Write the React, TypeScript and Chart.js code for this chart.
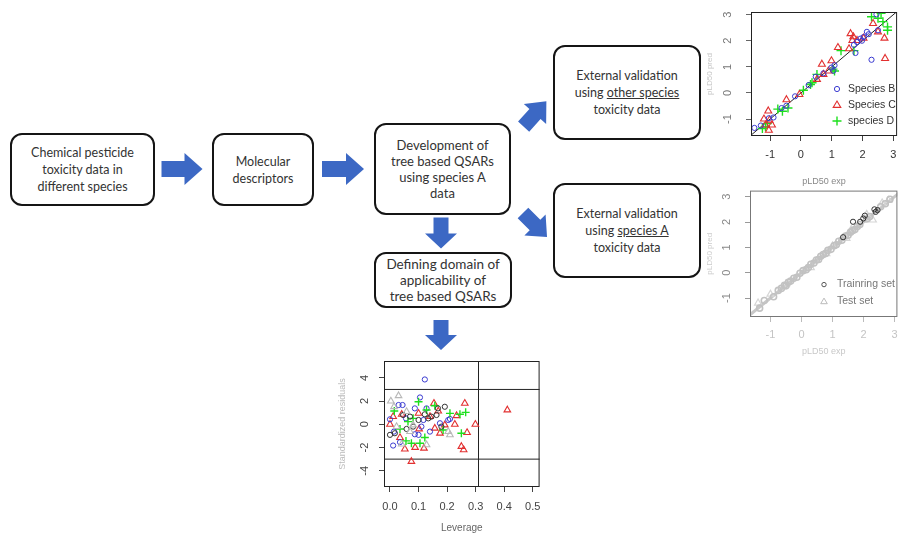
import React, { useEffect, useRef } from 'react';
import { Chart, registerables } from 'chart.js';
Chart.register(...registerables);

const FONT = "'Liberation Sans', Arial, sans-serif";
const BLUE = '#3a3ad0';
const RED = '#e23030';
const GREEN = '#1ee01e';

// ---------- Chart 1: external validation, other species ----------
const predTicks = [-1, 0, 1, 2, 3];
const speciesB: [number, number][] = [
  [-1.51, -1.34], [-1.04, -0.97], [-0.89, -0.94], [-0.63, -0.58], [-0.47, -0.49], [-0.19, -0.13],
  [0.48, 0.62], [0.73, 0.75], [0.99, 0.97], [1.09, 1.06], [1.72, 1.84], [1.82, 1.95], [1.93, 2.08],
  [2.03, 2.14], [2.14, 2.34], [1.77, 1.53], [2.29, 1.27], [2.45, 3.01], [2.5, 2.4], [-1.3, -1.25],
  [0.25, 0.3], [1.05, 0.85], [2.2, 2.25], [1.98, 2.0],
];
const speciesC: [number, number][] = [
  [-1.06, -0.69], [-1.02, -1.04], [-1.04, -1.43], [-1.15, -1.23], [-0.94, -1.23], [-0.47, -0.26],
  [-0.05, -0.06], [0.68, 1.1], [0.73, 0.71], [0.99, 1.23], [1.2, 1.74], [1.56, 1.69], [1.61, 2.27],
  [1.67, 2.01], [1.82, 2.01], [2.03, 2.1], [2.34, 2.66], [2.5, 2.34], [2.71, 2.1], [2.73, 1.32],
  [0.89, 0.84], [0.52, 0.52], [1.7, 2.15], [-1.2, -1.0],
];
const speciesD: [number, number][] = [
  [-1.25, -1.36], [-1.09, -1.17], [-0.75, -0.62], [-0.42, -0.58], [0.08, 0.1], [0.31, 0.32],
  [0.52, 0.71], [1.04, 0.91], [1.3, 1.62], [1.72, 1.62], [2.29, 2.92], [2.6, 3.05], [2.66, 2.73],
  [2.81, 2.53], [2.81, 2.4], [2.5, 2.86], [0.36, 0.39], [1.09, 0.84], [-0.6, -0.7], [-1.15, -1.3],
];
const identityLine: [number, number][] = [[-2, -2], [3.5, 3.5]];
const legend1 = ['Species B', 'Species C', 'species D'];

// ---------- Chart 2: external validation, species A ----------
const trainingSet: [number, number][] = [
  [-1.35, -1.4], [-1.2, -1.1], [-0.9, -0.95], [-0.75, -0.7], [-0.65, -0.62], [-0.55, -0.5],
  [-0.5, -0.52], [-0.42, -0.38], [-0.35, -0.33], [-0.25, -0.22], [-0.15, -0.18], [-0.05, -0.02],
  [0.05, 0.08], [0.15, 0.12], [0.22, 0.2], [0.3, 0.33], [0.4, 0.38], [0.48, 0.5], [0.55, 0.52],
  [0.62, 0.65], [0.7, 0.72], [0.78, 0.76], [0.85, 0.88], [0.95, 0.92], [1.05, 1.06], [1.12, 1.1],
  [1.2, 1.24], [1.3, 1.28], [1.42, 1.45], [1.5, 1.48], [1.58, 1.6], [1.65, 1.66],
  [1.72, 1.7], [1.8, 1.82], [1.88, 1.9], [2.1, 2.12], [2.2, 2.22], [2.55, 2.6],
  [2.7, 2.72], [2.85, 2.9],
];
const trainingDark: [number, number][] = [
  [1.99, 2.14], [2.39, 2.4], [2.35, 2.5], [2.45, 2.47], [2.04, 2.25], [1.89, 2.01], [1.34, 1.4], [1.66, 2.01],
];
const testSet: [number, number][] = [
  [-1.4, -1.2], [-0.5, -0.45], [0.3, 0.2], [1.0, 1.05], [1.6, 1.7], [2.3, 2.08], [2.6, 2.75],
  [2.8, 2.85], [-1.0, -0.85], [0.8, 0.75], [2.1, 2.3], [1.45, 1.35],
];
const legend2 = ['Trainring set', 'Test set'];

// ---------- Chart 3: applicability domain (Williams plot) ----------
const leverageTicks = [0, 0.1, 0.2, 0.3, 0.4, 0.5];
const residualTicks = [-4, -2, 0, 2, 4];
const residualLimit = 3;
const leverageLimit = 0.31;
const domainRed: [number, number][] = [
  [0.154, 1.8], [0.262, 1.8], [0.411, 1.23], [0.299, 0], [0.227, 0], [0.27, -0.71], [0.25, -1.91],
  [0.258, -2.2], [0.075, -3.2], [0.052, -2.14], [0.088, -2.0], [0.119, -2.06], [0.14, 0.66],
  [0.169, 1.14], [0.192, -0.06], [0.157, -0.34], [0.102, -0.4], [0.041, 0.86], [0.011, 0.66],
  [0.233, 0.74], [0.175, -0.77], [0.0, 0], [0.1, 0.94], [0.035, -1.14],
];
const domainBlue: [number, number][] = [
  [0.122, 3.86], [0.105, 2.31], [0.011, -1.83], [0.0, 0.43], [0.03, 1.66], [0.044, 1.66], [0.087, 1.37],
  [0.128, 1.37], [0.056, 0.51], [0.087, -0.86], [0.11, -0.2], [0.14, -0.63], [0.175, 0.09],
  [0.204, 0.37], [0.21, 0.46], [0.014, -0.63], [0.035, -1.54], [0.1, -0.91], [0.117, 0.37],
];
const domainGreen: [number, number][] = [
  [0.015, 1.14], [0.1, 1.94], [0.128, 1.23], [0.157, 1.6], [0.21, 0.94], [0.245, 0.86], [0.265, 1.03],
  [0.25, -0.77], [0.186, -0.49], [0.075, -1.63], [0.105, -1.63], [0.122, -1.14], [0.035, -0.4],
  [0.081, 0.51], [0.063, 0.23], [0.056, -1.43],
];
const domainBlack: [number, number][] = [
  [0.192, 1.51], [0.145, 0.66], [0.163, 0.8], [0.0, -0.91], [0.017, -0.77], [0.046, 0.8], [0.07, 0.66],
  [0.122, 0.86], [0.134, 0.51], [0.058, -0.4], [0.081, -0.2], [0.1, 0.37], [0.18, -0.2], [0.168, 1.37],
];
const domainGray: [number, number][] = [
  [0.003, 2.0], [0.03, 2.46], [0.014, 1.51], [0.128, -1.77], [0.041, -1.71], [0.07, -0.63], [0.21, -0.91],
  [0.081, -0.06], [0.023, -0.2], [0.058, 1.09], [0.204, -0.63],
];

const toPts = (a: [number, number][]) => a.map(([x, y]) => ({ x, y }));

function axis(o: any) {
  return {
    type: 'linear',
    min: o.min,
    max: o.max,
    afterBuildTicks: (s: any) => {
      s.ticks = o.ticks.map((v: number) => ({ value: v }));
    },
    afterFit: (s: any) => {
      if (o.width != null) s.width = o.width;
      if (o.height != null) s.height = o.height;
      s.paddingLeft = 0; s.paddingRight = 0; s.paddingTop = 0; s.paddingBottom = 0;
    },
    grid: { display: true, drawOnChartArea: false, drawTicks: true, tickLength: o.tickLen, color: o.tickColor, lineWidth: 1 },
    border: { display: false },
    ticks: {
      display: !o.rotate,
      color: o.labelColor,
      font: { family: FONT, size: 11 },
      padding: o.pad,
      callback: o.fmt || ((v: number) => String(v)),
    },
    title: {
      display: !!o.title,
      text: o.title,
      color: o.titleColor,
      font: { family: FONT, size: o.titleSize },
      padding: { top: o.titlePad, bottom: o.titlePad },
    },
  };
}

// y tick labels written parallel to the axis (R style), at the y scale's tick positions
const rotatedYLabels = (dx: number, color: string, size: number) => ({
  id: 'rotatedYLabels',
  afterDraw(chart: any) {
    const { ctx, chartArea: a } = chart;
    const s = chart.scales.y;
    ctx.save();
    ctx.fillStyle = color;
    ctx.font = `${size}px ${FONT}`;
    ctx.textAlign = 'center';
    ctx.textBaseline = 'middle';
    s.ticks.forEach((t: any) => {
      const y = s.getPixelForValue(t.value);
      ctx.save();
      ctx.translate(a.left - dx, y);
      ctx.rotate(-Math.PI / 2);
      ctx.fillText(t.label != null ? String(t.label) : String(t.value), 0, 0);
      ctx.restore();
    });
    ctx.restore();
  },
});

function drawSymbol(ctx: CanvasRenderingContext2D, style: string, x: number, y: number, r: number, color: string, lw: number) {
  ctx.save();
  ctx.strokeStyle = color;
  ctx.lineWidth = lw;
  ctx.beginPath();
  if (style === 'circle') {
    ctx.arc(x, y, r, 0, Math.PI * 2);
  } else if (style === 'triangle') {
    ctx.moveTo(x, y - r);
    ctx.lineTo(x + r * 0.95, y + r * 0.6);
    ctx.lineTo(x - r * 0.95, y + r * 0.6);
    ctx.closePath();
  } else {
    ctx.moveTo(x - r, y); ctx.lineTo(x + r, y);
    ctx.moveTo(x, y - r); ctx.lineTo(x, y + r);
  }
  ctx.stroke();
  ctx.restore();
}

const framePlugin = (color: string) => ({
  id: 'frame',
  afterDatasetsDraw(chart: any) {
    const { ctx, chartArea: a } = chart;
    ctx.save();
    ctx.strokeStyle = color;
    ctx.lineWidth = 1;
    ctx.strokeRect(a.left + 0.5, a.top + 0.5, a.right - a.left - 1, a.bottom - a.top - 1);
    ctx.restore();
  },
});

const legendPlugin = (items: any[], dx: number, dy: number, step: number, textDx: number, color: string, size: number) => ({
  id: 'innerLegend',
  afterDraw(chart: any) {
    const { ctx, chartArea: a } = chart;
    ctx.save();
    items.forEach((it, i) => {
      const x = a.left + dx;
      const y = a.top + dy + i * step;
      drawSymbol(ctx, it.style, x, y, it.r, it.color, it.lw);
      ctx.fillStyle = color;
      ctx.font = `${size}px ${FONT}`;
      ctx.textBaseline = 'middle';
      ctx.textAlign = 'left';
      ctx.fillText(it.label, a.left + textDx, y);
    });
    ctx.restore();
  },
});

const baseOptions = (padding: any, scales: any) => ({
  animation: false,
  responsive: true,
  maintainAspectRatio: false,
  events: [],
  layout: { padding },
  plugins: { legend: { display: false }, tooltip: { enabled: false } },
  scales,
});

function makeChart1() {
  return {
    type: 'scatter',
    data: {
      datasets: [
        { label: legend1[0], data: toPts(speciesB), pointStyle: 'circle', pointRadius: 2.6, borderColor: BLUE, backgroundColor: 'transparent', borderWidth: 1 },
        { label: legend1[1], data: toPts(speciesC), pointStyle: 'triangle', pointRadius: 4, borderColor: RED, backgroundColor: 'transparent', borderWidth: 1.1 },
        { label: legend1[2], data: toPts(speciesD), pointStyle: 'cross', pointRadius: 4.5, borderColor: GREEN, backgroundColor: 'transparent', borderWidth: 1.4 },
        { type: 'line', data: toPts(identityLine), borderColor: '#222', borderWidth: 1, pointRadius: 0, showLine: true },
      ],
    },
    options: baseOptions({ top: 12, right: 0, left: 0, bottom: 0 }, {
      x: axis({ min: -1.62, max: 3.12, ticks: predTicks, height: 54, tickLen: 5, tickColor: '#444', labelColor: '#333', pad: 7, title: 'pLD50 exp', titleColor: '#888', titleSize: 9, titlePad: 2.6 }),
      y: axis({ min: -1.65, max: 3.1, ticks: predTicks, width: 51, tickLen: 5, tickColor: '#666', rotate: true, title: 'pLD50 pred', titleColor: '#c4c4c4', titleSize: 8, titlePad: 5.2 }),
    }),
    plugins: [
      framePlugin('#222'),
      rotatedYLabels(23, '#777', 11),
      legendPlugin([
        { label: legend1[0], style: 'circle', r: 2.6, color: BLUE, lw: 1 },
        { label: legend1[1], style: 'triangle', r: 4, color: RED, lw: 1.1 },
        { label: legend1[2], style: 'cross', r: 4.5, color: GREEN, lw: 1.4 },
      ], 86, 77, 16, 97, '#333', 10.5),
    ],
  };
}

function makeChart2() {
  return {
    type: 'scatter',
    data: {
      datasets: [
        { data: toPts(trainingDark), pointStyle: 'circle', pointRadius: 2.6, borderColor: '#333', backgroundColor: 'transparent', borderWidth: 1 },
        { data: toPts(trainingSet), pointStyle: 'circle', pointRadius: 3, borderColor: '#c2c2c2', backgroundColor: 'transparent', borderWidth: 1.6 },
        { data: toPts(testSet), pointStyle: 'triangle', pointRadius: 4, borderColor: '#d6d6d6', backgroundColor: 'transparent', borderWidth: 1.2 },
        { type: 'line', data: toPts(identityLine), borderColor: '#c8c8c8', borderWidth: 3, pointRadius: 0, showLine: true },
      ],
    },
    options: baseOptions({ top: 5, right: 1, left: 0, bottom: 0 }, {
      x: axis({ min: -1.66, max: 3.09, ticks: predTicks, height: 43, tickLen: 5, tickColor: '#bbb', labelColor: '#c4c4c4', pad: 6, title: 'pLD50 exp', titleColor: '#c8c8c8', titleSize: 9, titlePad: 2.6 }),
      y: axis({ min: -1.75, max: 3.24, ticks: predTicks, width: 50, tickLen: 5, tickColor: '#999', rotate: true, title: 'pLD50 pred', titleColor: '#ccc', titleSize: 8, titlePad: 5.2 }),
    }),
    plugins: [
      framePlugin('#777'),
      rotatedYLabels(23, '#888', 11),
      legendPlugin([
        { label: legend2[0], style: 'circle', r: 2.2, color: '#555', lw: 1 },
        { label: legend2[1], style: 'triangle', r: 3.5, color: '#bbb', lw: 1 },
      ], 74, 94, 17, 87, '#777', 10.5),
    ],
  };
}

function makeChart3() {
  return {
    type: 'scatter',
    data: {
      datasets: [
        { data: toPts(domainGray), pointStyle: 'triangle', pointRadius: 3.8, borderColor: '#b8b8b8', backgroundColor: 'transparent', borderWidth: 1.1 },
        { data: toPts(domainBlack), pointStyle: 'circle', pointRadius: 2.6, borderColor: '#333', backgroundColor: 'transparent', borderWidth: 1 },
        { data: toPts(domainGreen), pointStyle: 'cross', pointRadius: 4, borderColor: GREEN, backgroundColor: 'transparent', borderWidth: 1.4 },
        { data: toPts(domainBlue), pointStyle: 'circle', pointRadius: 2.6, borderColor: BLUE, backgroundColor: 'transparent', borderWidth: 1 },
        { data: toPts(domainRed), pointStyle: 'triangle', pointRadius: 3.8, borderColor: RED, backgroundColor: 'transparent', borderWidth: 1.1 },
        { type: 'line', data: [{ x: leverageLimit, y: -10 }, { x: leverageLimit, y: 10 }], borderColor: '#222', borderWidth: 1, pointRadius: 0, showLine: true },
        { type: 'line', data: [{ x: -1, y: residualLimit }, { x: 1, y: residualLimit }], borderColor: '#222', borderWidth: 1, pointRadius: 0, showLine: true },
        { type: 'line', data: [{ x: -1, y: -residualLimit }, { x: 1, y: -residualLimit }], borderColor: '#222', borderWidth: 1, pointRadius: 0, showLine: true },
      ],
    },
    options: baseOptions({ top: 6, right: 5, left: 0, bottom: 0 }, {
      x: axis({ min: -0.021, max: 0.524, ticks: leverageTicks, height: 47, tickLen: 5, tickColor: '#444', labelColor: '#444', pad: 8, fmt: (v: number) => v.toFixed(1), title: 'Leverage', titleColor: '#666', titleSize: 10, titlePad: 0 }),
      y: axis({ min: -5.4, max: 5.45, ticks: residualTicks, width: 54, tickLen: 5, tickColor: '#444', rotate: true, title: 'Standardized residuals', titleColor: '#bbb', titleSize: 9, titlePad: 7.6 }),
    }),
    plugins: [framePlugin('#222'), rotatedYLabels(19, '#444', 11)],
  };
}

function ChartBox({ left, top, width, height, make }: any) {
  const ref = useRef<HTMLCanvasElement>(null);
  useEffect(() => {
    const chart = new Chart(ref.current as HTMLCanvasElement, make());
    return () => chart.destroy();
  }, []);
  return (
    <div style={{ position: 'absolute', left, top, width, height }}>
      <canvas ref={ref} />
    </div>
  );
}

function Box({ left, top, width, height, lines, size = 12.5, lh = 17 }: any) {
  return (
    <div
      style={{
        position: 'absolute', left, top, width, height, boxSizing: 'border-box',
        border: '2.5px solid #151515', borderRadius: 12, display: 'flex', alignItems: 'center',
        justifyContent: 'center', textAlign: 'center', fontFamily: "Lato, 'Open Sans', sans-serif",
        fontSize: size, lineHeight: `${lh}px`, color: '#333', background: '#fff',
      }}
    >
      <div>{lines.map((l: any, i: number) => <div key={i}>{l}</div>)}</div>
    </div>
  );
}

function blockArrow(len: number, shaft: number, head: number, headLen: number) {
  const x0 = -len / 2, x1 = len / 2, hx = x1 - headLen;
  return [
    [x0, -shaft / 2], [hx, -shaft / 2], [hx, -head / 2], [x1, 0], [hx, head / 2], [hx, shaft / 2], [x0, shaft / 2],
  ].map((p) => p.join(',')).join(' ');
}

const ARROW = '#3c68c4';
const arrows = [
  { cx: 182, cy: 169, rot: 0, len: 41, shaft: 16, head: 32, headLen: 18 },
  { cx: 343, cy: 169, rot: 0, len: 42, shaft: 16, head: 32, headLen: 18 },
  { cx: 441, cy: 233, rot: 90, len: 31, shaft: 15, head: 32, headLen: 15 },
  { cx: 441, cy: 335, rot: 90, len: 30, shaft: 15, head: 32, headLen: 15 },
  { cx: 535, cy: 114, rot: -48, len: 34, shaft: 15, head: 30, headLen: 17 },
  { cx: 535, cy: 225, rot: 45, len: 34, shaft: 15, head: 30, headLen: 17 },
];

export default function App() {
  return (
    <div style={{ position: 'absolute', left: 0, top: 0, width: 903, height: 534, overflow: 'hidden', background: '#fff' }}>
      <svg width={903} height={534} style={{ position: 'absolute', left: 0, top: 0 }}>
        {arrows.map((a, i) => (
          <polygon key={i} points={blockArrow(a.len, a.shaft, a.head, a.headLen)} fill={ARROW}
            transform={`translate(${a.cx},${a.cy}) rotate(${a.rot})`} />
        ))}
      </svg>
      <Box left={10} top={133} width={145} height={73} lines={['Chemical pesticide', 'toxicity data in', 'different species']} />
      <Box left={212} top={133} width={102} height={73} lines={['Molecular', 'descriptors']} />
      <Box left={374} top={123} width={137} height={92} lh={16} size={13} lines={['Development of', 'tree based QSARs', 'using species A', 'data']} />
      <Box left={374} top={252} width={138} height={56} lh={16} size={13.5} lines={['Defining domain of', 'applicability of', 'tree based QSARs']} />
      <Box left={553} top={45} width={148} height={95} lines={['External validation', <span>using <u>other species</u></span>, 'toxicity data']} />
      <Box left={553} top={183} width={148} height={95} lines={['External validation', <span>using <u>species A</u></span>, 'toxicity data']} />
      <ChartBox left={700} top={0} width={203} height={190} make={makeChart1} />
      <ChartBox left={700} top={185} width={203} height={175} make={makeChart2} />
      <ChartBox left={330} top={355} width={215} height={179} make={makeChart3} />
    </div>
  );
}
